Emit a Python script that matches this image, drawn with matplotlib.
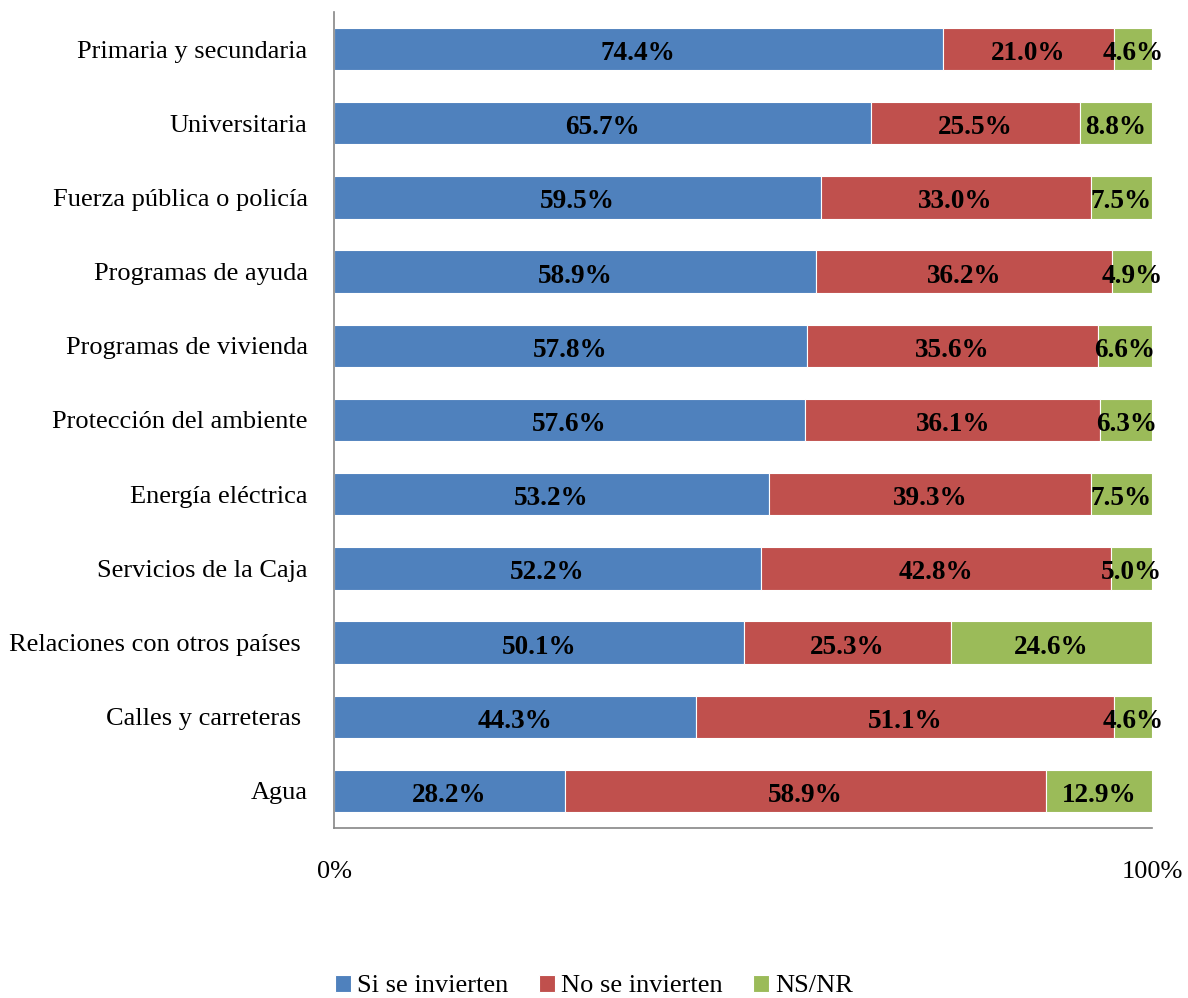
import numpy as np
import matplotlib.pyplot as plt

plt.rcParams['font.family'] = ['Liberation Serif', 'DejaVu Serif']

categorias = ['Primaria y secundaria', 'Universitaria', 'Fuerza pública o policía',
              'Programas de ayuda', 'Programas de vivienda', 'Protección del ambiente',
              'Energía eléctrica', 'Servicios de la Caja', 'Relaciones con otros países ',
              'Calles y carreteras ', 'Agua']
si = [74.4, 65.7, 59.5, 58.9, 57.8, 57.6, 53.2, 52.2, 50.1, 44.3, 28.2]
no = [21.0, 25.5, 33.0, 36.2, 35.6, 36.1, 39.3, 42.8, 25.3, 51.1, 58.9]
nsnr = [4.6, 8.8, 7.5, 4.9, 6.6, 6.3, 7.5, 5.0, 24.6, 4.6, 12.9]

series = [('Si se invierten', si, '#4F81BD'),
          ('No se invierten', no, '#C0504D'),
          ('NS/NR', nsnr, '#9BBB59')]

fig = plt.figure(figsize=(11.88, 9.98), dpi=100)
ax = fig.add_axes([334/1188, 1-828/998, (1152-334)/1188, 816/998])

y = np.arange(len(categorias))
left = np.zeros(len(categorias))
for nombre, vals, color in series:
    vals = np.array(vals)
    bars = ax.barh(y, vals, left=left, height=0.57, color=color, label=nombre,
                   edgecolor='white', linewidth=0.8)
    for b, v in zip(bars, vals):
        ax.text(b.get_x() + b.get_width()/2, b.get_y() + b.get_height()/2 + 0.02,
                '%.1f%%' % v, ha='center', va='center_baseline', fontsize=19.5,
                fontweight='bold', color='black')
    left += vals

ax.set_yticks(y)
ax.set_yticklabels(categorias, fontsize=19)
ax.set_ylim(len(categorias)-0.5, -0.5)
ax.set_xlim(0, 100)
ax.set_xticks([0, 100])
ax.set_xticklabels(['0%', '100%'], fontsize=19)
ax.tick_params(axis='x', length=0, pad=24)
ax.tick_params(axis='y', length=0, pad=19)
for s in ['top', 'right']:
    ax.spines[s].set_visible(False)
for s in ['left', 'bottom']:
    ax.spines[s].set_color('#868686')
    ax.spines[s].set_linewidth(1.2)

fig.legend(loc='center', bbox_to_anchor=(0.5, 1-986/998), ncol=3, frameon=False,
           fontsize=19, handlelength=0.62, handleheight=0.62, handletextpad=0.22,
           columnspacing=1.15)

plt.savefig('out.png', dpi=100)
